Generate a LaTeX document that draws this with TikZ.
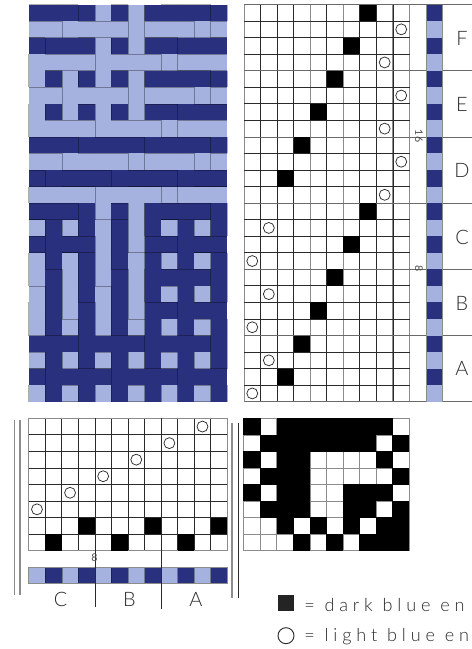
\documentclass[tikz,border=0pt]{standalone}
\usepackage{fontspec}
\setmainfont{Lato Light}
\newfontfamily\legendfont[LetterSpace=27]{Lato Light}
\newfontfamily\numfont{Lato}
\definecolor{darkblue}{HTML}{29317F}
\definecolor{lightblue}{HTML}{A5B1DF}
\definecolor{ink}{HTML}{2B2B2B}
\definecolor{gridgrey}{HTML}{8C8C8C}
\definecolor{griddark}{HTML}{2A2A2A}
\def\tie{{{1,0,1,1,1,1,1,1,1,0},{0,1,1,1,1,1,1,1,0,1},{1,0,1,1,0,0,0,0,1,0},{0,1,1,1,0,0,0,0,0,1},{1,0,1,1,0,0,1,1,1,0},{0,1,1,1,0,0,1,1,0,1},{0,0,1,0,1,0,1,0,1,1},{0,0,0,1,0,1,0,1,1,1}}}
\def\thr{{5,7,4,6,3,7,2,6,1,7,0,6}}
\def\tred{{7,9,6,8,5,9,4,8,3,9,2,8,7,1,6,0,5,1,4,0,3,1,2,0}}
\tikzset{
  hair/.style={line width=0.55pt,griddark},
  hairg/.style={line width=0.7pt,gridgrey},
  weavedge/.style={black,line width=0.45pt,opacity=.32},
  ring/.style={draw=ink,line width=0.55pt,fill=none,circle,minimum size=8.2bp,inner sep=0pt},
  bigletter/.style={font=\fontsize{15}{17}\selectfont,text=ink,inner sep=0pt},
  smallnum/.style={font=\numfont\fontsize{8}{9}\selectfont,text=ink!85,inner sep=0pt},
  legendtext/.style={font=\legendfont\fontsize{13.6}{15}\selectfont,text=ink,inner sep=0pt,anchor=base west}
}
\begin{document}
\begin{tikzpicture}[x=0.75bp,y=-0.75bp]
\useasboundingbox (0,0) rectangle (472,649);
\fill[white] (0,0) rectangle (472,649);
\def\cw{16.55}
% ---- cloth
\def\cx{28.7} \def\cy{4.5}
\foreach \r in {0,...,23}{
  \foreach \c in {0,...,11}{
    \pgfmathtruncatemacro{\tv}{\tred[\r]}
    \pgfmathtruncatemacro{\sv}{\thr[\c]}
    \pgfmathtruncatemacro{\on}{\tie[\sv][\tv]}
    \pgfmathsetmacro{\xa}{\cx+\c*\cw}
    \pgfmathsetmacro{\xb}{\xa+\cw}
    \pgfmathsetmacro{\ya}{\cy+\r*\cw}
    \pgfmathsetmacro{\yb}{\ya+\cw}
    \pgfmathtruncatemacro{\wd}{mod(\r,2)==0}
    \pgfmathtruncatemacro{\cd}{mod(\c,2)==1}
    \ifnum\on=1
      \ifnum\wd=1 \def\col{darkblue}\else\def\col{lightblue}\fi
      \fill[\col] (\xa,\ya) rectangle (\xb,\yb);
      \draw[weavedge] (\xa,\ya) -- (\xb,\ya) (\xa,\yb) -- (\xb,\yb);
    \else
      \ifnum\cd=1 \def\col{darkblue}\else\def\col{lightblue}\fi
      \fill[\col] (\xa,\ya) rectangle (\xb,\yb);
      \draw[weavedge] (\xa,\ya) -- (\xa,\yb) (\xb,\ya) -- (\xb,\yb);
    \fi
  }
}
% ---- treadling grid
\def\gx{244} \def\gy{4.5}
\foreach \i in {1,2,3,4,5,6,7,8,9}{
  \draw[hair] ({\gx+\i*\cw},\gy) -- ++(0,{24*\cw});
}
\foreach \i in {0,4,6,9,10}{
  \draw[hairg] ({\gx+\i*\cw},\gy) -- ++(0,{24*\cw});
}
\foreach \j in {1,2,3,5,6,7,9,10,11,13,14,15,17,18,19,21,22,23}{
  \draw[hair] (\gx,{\gy+\j*\cw}) -- ++({10*\cw},0);
}
\foreach \j in {0,4,8,12,16,20,24}{
  \draw[hair,griddark!70] (\gx,{\gy+\j*\cw}) -- (472,{\gy+\j*\cw});
}
\foreach \r/\c in {0/7,2/6,4/5,6/4,8/3,10/2,12/7,14/6,16/5,18/4,20/3,22/2}{
  \fill[black] ({\gx+\c*\cw},{\gy+\r*\cw}) rectangle ++(\cw,\cw);
}
\foreach \r/\c in {1/9,3/8,5/9,7/8,9/9,11/8,13/1,15/0,17/1,19/0,21/1,23/0}{
  \node[ring] at ({\gx+(\c+.5)*\cw},{\gy+(\r+.5)*\cw}) {};
}
\foreach \r in {0,...,23}{
  \pgfmathtruncatemacro{\wd}{mod(\r,2)==0}
  \ifnum\wd=1 \def\col{darkblue}\else\def\col{lightblue}\fi
  \fill[\col] (426,{\gy+\r*\cw}) rectangle (442.6,{\gy+(\r+1)*\cw});
}
\draw[hairg] (426,\gy) -- ++(0,{24*\cw}) (442.6,\gy) -- ++(0,{24*\cw});
\node[smallnum,rotate=-90] (n16) at (419,136) {16};
\node[smallnum,rotate=-90] (n8r) at (419,268.5) {8};
\node[bigletter] (lF) at (462,38) {F};
\node[bigletter] (lE) at (462,104.5) {E};
\node[bigletter] (lD) at (462,170.5) {D};
\node[bigletter] (lC) at (462,237.5) {C};
\node[bigletter] (lB) at (462,303) {B};
\node[bigletter] (lA) at (462,368) {A};
% ---- threading
\def\tx{28.7} \def\ty{418.3}
\foreach \i in {1,2,3,5,6,7,9,10,11}{
  \draw[hair] ({\tx+\i*\cw},\ty) -- ++(0,{8*\cw});
}
\foreach \j in {1,...,7}{
  \draw[hair] (\tx,{\ty+\j*\cw}) -- ++({12*\cw},0);
}
\draw[hairg] (\tx,\ty) rectangle ++({12*\cw},{8*\cw});
\foreach \c/\r in {0/5,2/4,4/3,6/2,8/1,10/0}{
  \node[ring] at ({\tx+(\c+.5)*\cw},{\ty+(\r+.5)*\cw}) {};
}
\foreach \c/\r in {3/6,7/6,11/6,1/7,5/7,9/7}{
  \fill[black] ({\tx+\c*\cw},{\ty+\r*\cw}) rectangle ++(\cw,\cw);
}
\foreach \c in {0,...,11}{
  \pgfmathtruncatemacro{\cd}{mod(\c,2)==1}
  \ifnum\cd=1 \def\col{darkblue}\else\def\col{lightblue}\fi
  \fill[\col] ({\tx+\c*\cw},567.3) rectangle ++(\cw,16.5);
}
\foreach \i in {1,...,11}{
  \draw[weavedge] ({\tx+\i*\cw},567.3) -- ++(0,16.5);
}
\draw[hairg] (\tx,567.3) rectangle ++({12*\cw},16.5);
\draw[griddark,line width=0.6pt] ({\tx+4*\cw},\ty) -- ({\tx+4*\cw},606.7);
\draw[griddark,line width=0.6pt] ({\tx+8*\cw},\ty) -- ({\tx+8*\cw},608.5);
\node[smallnum] (n8b) at (94.5,557.7) {8};
\node[bigletter] (bC) at (60.5,599) {C};
\node[bigletter] (bB) at (129.5,599) {B};
\node[bigletter] (bA) at (196,599) {A};
\draw[gridgrey,line width=1pt] (14.3,420) -- (14.3,595);
\draw[gridgrey,line width=1pt] (20,420) -- (20,595);
\draw[gridgrey,line width=1pt] (232,423) -- (232,598);
\draw[ink,line width=0.7pt] (238.7,423) -- (238.7,598);
% ---- tie-up
\def\mx{243.7} \def\my{418.3}
\foreach \i in {1,...,9}{
  \draw[gridgrey,line width=0.5pt] ({\mx+\i*\cw},\my) -- ++(0,{8*\cw});
}
\foreach \j in {1,...,7}{
  \draw[gridgrey,line width=0.5pt] (\mx,{\my+\j*\cw}) -- ++({10*\cw},0);
}
\draw[hairg] (\mx,\my) rectangle ++({10*\cw},{8*\cw});
\foreach \r in {0,...,7}{
  \foreach \c in {0,...,9}{
    \pgfmathtruncatemacro{\on}{\tie[\r][\c]}
    \ifnum\on=1
      \fill[black] ({\mx+\c*\cw-.25},{\my+\r*\cw-.25}) rectangle ++({\cw+.5},{\cw+.5});
    \fi
  }
}
% ---- legend
\fill[ink!85!black] (277.7,595) rectangle (294.3,611);
\node[ring,minimum size=12bp,line width=0.7pt] (legc) at (286,635.7) {};
\node[legendtext] (leg1) at (304,611) {= dark blue en};
\node[legendtext] (leg2) at (304,641.5) {= light blue en};
\end{tikzpicture}
\end{document}
